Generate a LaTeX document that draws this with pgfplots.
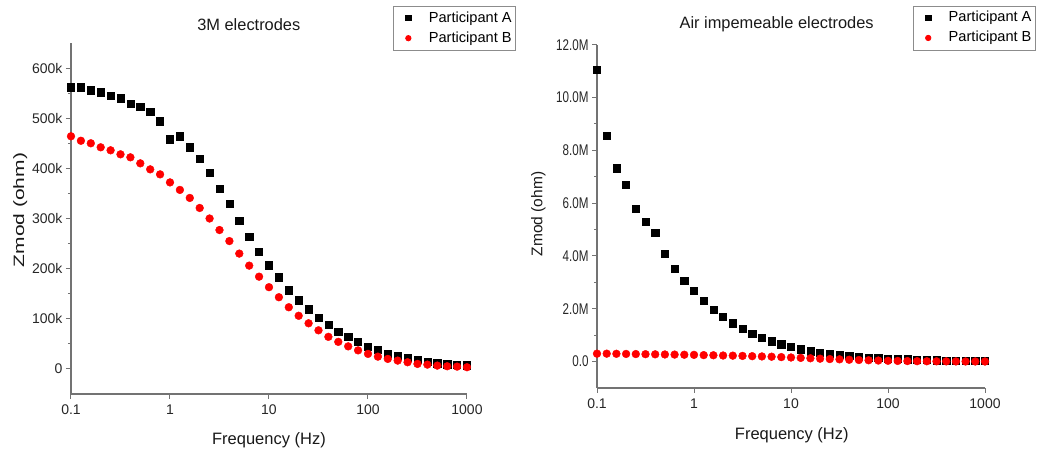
\documentclass[border=0pt]{standalone}
\usepackage{fontspec}
\setmainfont{Liberation Sans}
\usepackage{graphicx}
\usepackage{pgfplots}
\usepackage{pgfplotstable}
\pgfplotsset{compat=1.18}

\newcommand\nr[1]{\scalebox{0.75}[1]{#1}}

% frequency (Hz), participant A, participant B -- Zmod in ohm
\pgfplotstableread{
f A B
0.1 562000 464000
0.1259 562000 455000
0.1585 556000 450000
0.1995 552000 442000
0.2512 545000 436000
0.3162 540000 428000
0.3981 529000 422000
0.5012 523000 410000
0.631 513000 398000
0.7943 494000 388000
1 458000 372000
1.259 464000 357000
1.585 442000 341000
1.995 420000 321000
2.512 392000 300000
3.162 359000 277000
3.981 329000 255000
5.012 295000 230000
6.31 264000 206000
7.943 234000 184000
10 207000 163000
12.59 183000 143000
15.85 157000 123000
19.95 137000 106000
25.12 119000 91000
31.62 102000 77000
39.81 88000 64000
50.12 75000 54000
63.1 64000 45000
79.43 54000 37000
100 45000 30000
125.9 38000 24500
158.5 31000 20000
199.5 26500 16600
251.2 22000 13300
316.2 18600 10000
398.1 14600 8600
501.2 11300 6600
631 9300 5300
794.3 8600 4600
1000 7300 3400
}\threem

\pgfplotstableread{
f A B
0.1 11040000 300000
0.1259 8560000 300000
0.1585 7320000 295000
0.1995 6690000 290000
0.2512 5800000 285000
0.3162 5290000 280000
0.3981 4870000 275000
0.5012 4100000 270000
0.631 3510000 265000
0.7943 3070000 260000
1 2670000 255000
1.259 2310000 245000
1.585 1970000 240000
1.995 1690000 230000
2.512 1450000 225000
3.162 1250000 215000
3.981 1070000 205000
5.012 910000 195000
6.31 770000 185000
7.943 660000 170000
10 550000 155000
12.59 470000 140000
15.85 390000 125000
19.95 340000 110000
25.12 290000 95000
31.62 250000 85000
39.81 210000 70000
50.12 190000 60000
63.1 160000 50000
79.43 140000 40000
100 120000 30000
125.9 100000 25000
158.5 90000 20000
199.5 75000 15000
251.2 60000 12000
316.2 50000 10000
398.1 45000 8000
501.2 40000 6000
631 35000 5000
794.3 30000 4000
1000 30000 3000
}\airimp

\begin{document}
\begin{tikzpicture}
\path[use as bounding box] (0pt,0pt) rectangle (1039pt,454pt);

\begin{axis}[
  scale only axis,
  at={(71pt,60pt)}, anchor=south west,
  width=396pt, height=351pt,
  xmode=log, log basis x=10,
  xmin=0.1, xmax=1000,
  ymin=-50000, ymax=650000,
  axis x line*=bottom, axis y line*=left,
  axis line style={black!55, line width=1.3pt, -},
  tick align=outside,
  major tick length=5pt, minor tick length=3pt,
  tick style={black!55, line width=1pt},
  xtick={0.1,1,10,100,1000}, xticklabels={0.1,1,10,100,1000},
  ytick={0,100000,200000,300000,400000,500000,600000},
  yticklabels={0,100k,200k,300k,400k,500k,600k},
  minor y tick num=1,
  scaled y ticks=false,
  ticklabel style={font=\fontsize{14}{16}\selectfont, text=black!85},
  xticklabel style={yshift=-2pt},
  title={3M electrodes},
  title style={font=\fontsize{16.4}{19}\selectfont, text=black!90, anchor=center, at={(axis description cs:0.449,1.035)}},
  xlabel={Frequency (Hz)},
  xlabel style={font=\fontsize{16.5}{19}\selectfont, text=black!90, at={(axis description cs:0.5,-0.133)}, anchor=center},
  ylabel={\scalebox{1.4}[1]{Zmod (ohm)}},
  ylabel style={font=\fontsize{15}{18}\selectfont, text=black!90, at={(axis description cs:-0.128,0.524)}, anchor=center},
  clip=false,
  legend style={draw=black!45, line width=0.8pt,
    font=\fontsize{14.6}{17}\selectfont, anchor=north west,
    at={(axis description cs:0.813,1.106)},
    inner xsep=2pt, inner ysep=3pt, row sep=2pt,
    nodes={inner sep=2pt, text height=11pt, text depth=3pt}},
  legend cell align=left,
  legend image code/.code={
    \path[draw=none, fill=none] (0pt,-3pt) rectangle (31.5pt,3pt);
    \draw[#1, mark size=2.7pt] plot coordinates {(13pt,0pt)};},
]
\addplot[only marks, mark=square*, mark size=3.6pt, color=black] table[x=f, y=A] {\threem};
\addplot[only marks, mark=*, mark size=3.9pt, color=red] table[x=f, y=B] {\threem};
\legend{Participant A, Participant B}
\end{axis}

\begin{axis}[
  scale only axis,
  at={(597pt,66pt)}, anchor=south west,
  width=388pt, height=343.3pt,
  xmode=log, log basis x=10,
  xmin=0.1, xmax=1000,
  ymin=-1000000, ymax=12000000,
  axis x line*=bottom, axis y line*=left,
  axis line style={black!55, line width=1.3pt, -},
  tick align=outside,
  major tick length=5pt, minor tick length=3pt,
  tick style={black!55, line width=1pt},
  xtick={0.1,1,10,100,1000}, xticklabels={0.1,1,10,100,1000},
  ytick={0,2000000,4000000,6000000,8000000,10000000,12000000},
  yticklabels={\nr{0.0},\nr{2.0M},\nr{4.0M},\nr{6.0M},\nr{8.0M},\nr{10.0M},\nr{12.0M}},
  minor y tick num=1,
  scaled y ticks=false,
  ticklabel style={font=\fontsize{14}{16}\selectfont, text=black!85},
  xticklabel style={yshift=-2pt},
  yticklabel style={font=\fontsize{15.5}{17}\selectfont},
  title={Air impemeable electrodes},
  title style={font=\fontsize{16.4}{19}\selectfont, text=black!90, anchor=center, at={(axis description cs:0.463,1.041)}},
  xlabel={Frequency (Hz)},
  xlabel style={font=\fontsize{16.5}{19}\selectfont, text=black!90, at={(axis description cs:0.502,-0.137)}, anchor=center},
  ylabel={Zmod (ohm)},
  ylabel style={font=\fontsize{15.5}{18}\selectfont, text=black!90, at={(axis description cs:-0.151,0.507)}, anchor=center},
  clip=false,
  legend style={draw=black!45, line width=0.8pt,
    font=\fontsize{14.6}{17}\selectfont, anchor=north west,
    at={(axis description cs:0.814,1.114)},
    inner xsep=2pt, inner ysep=3pt, row sep=2pt,
    nodes={inner sep=2pt, text height=11pt, text depth=3pt}},
  legend cell align=left,
  legend image code/.code={
    \path[draw=none, fill=none] (0pt,-3pt) rectangle (31.5pt,3pt);
    \draw[#1, mark size=2.7pt] plot coordinates {(13pt,0pt)};},
]
\addplot[only marks, mark=square*, mark size=3.6pt, color=black] table[x=f, y=A] {\airimp};
\addplot[only marks, mark=*, mark size=3.9pt, color=red] table[x=f, y=B] {\airimp};
\legend{Participant A, Participant B}
\end{axis}
\end{tikzpicture}
\end{document}
